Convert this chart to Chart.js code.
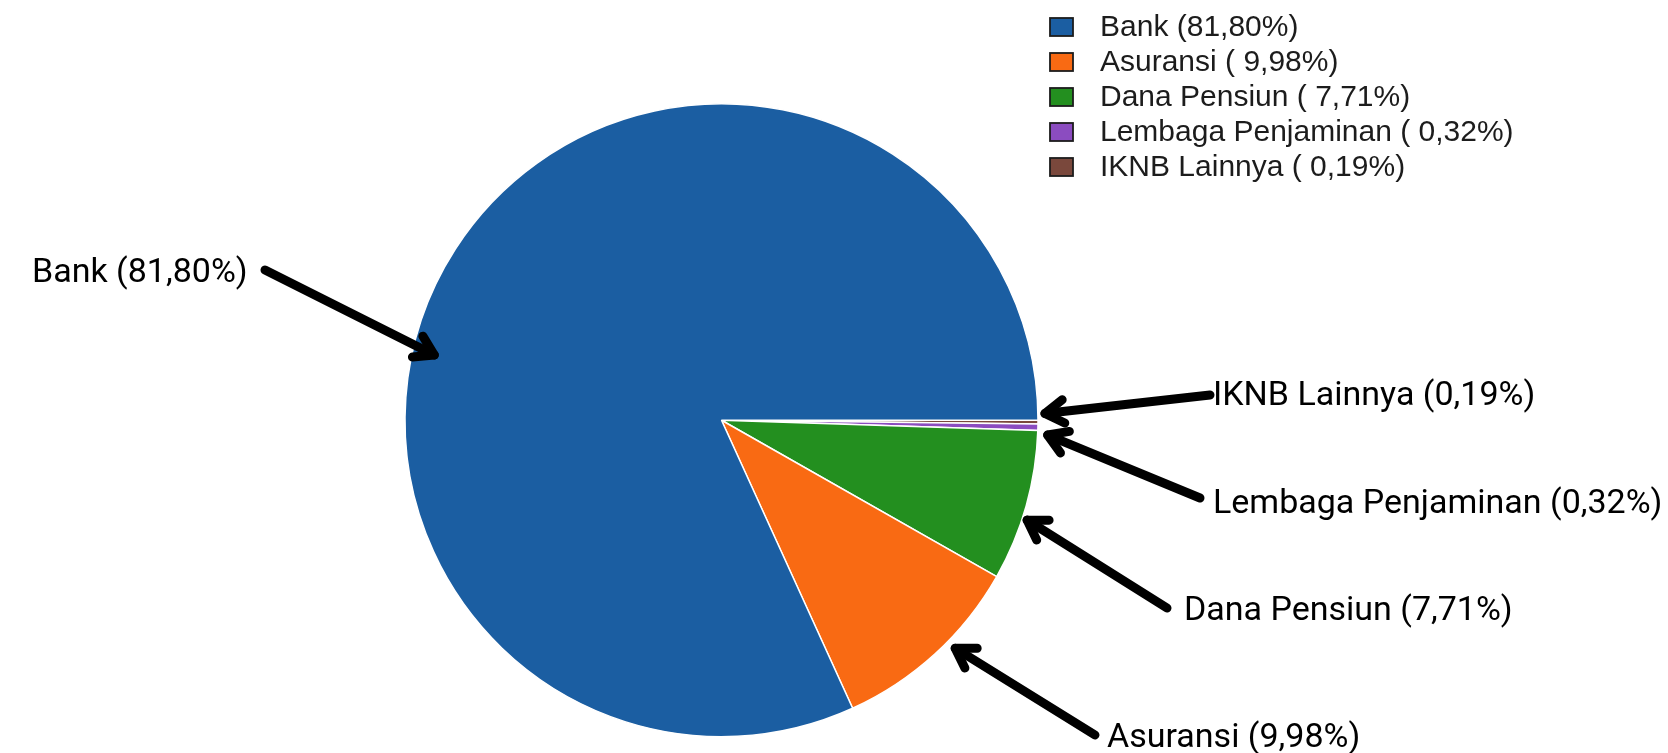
<!DOCTYPE html>
<html lang="id">
<head>
<meta charset="utf-8">
<title>Komposisi Aset Sektor Keuangan</title>
<script src="https://cdn.jsdelivr.net/npm/chart.js@4.4.1/dist/chart.umd.min.js"></script>
<style>
  html, body { margin: 0; padding: 0; background: #fff; }
  #wrap { width: 1668px; height: 753px; }
</style>
</head>
<body>
<div id="wrap"><canvas id="pie" width="1668" height="753"></canvas></div>
<script>
// Sector names and their share (%), in legend order
const sectors = ['Bank', 'Asuransi', 'Dana Pensiun', 'Lembaga Penjaminan', 'IKNB Lainnya'];
const shares = [81.80, 9.98, 7.71, 0.32, 0.19];
const sectorColors = ['#1b5ea2', '#f96a13', '#238f1f', '#8b4cc0', '#7a483c'];

// "81.8" -> "81,80"
const pct = v => v.toFixed(2).replace('.', ',');

// Callout placement: text baseline start, arrow tail, and where the arrow
// tip sits on the pie (angle clockwise from 3 o'clock, gap from the rim)
const callouts = [
    { text: [32, 282],   tail: [265, 270],  angle: 192.8, gap: -22 },
    { text: [1107, 747], tail: [1095, 735], angle: 44.3,  gap: 10 },
    { text: [1184, 620], tail: [1167, 608], angle: 18.1,  gap: 5 },
    { text: [1213, 513], tail: [1200, 498], angle: 2.6,   gap: 10 },
    { text: [1213, 405], tail: [1210, 395], angle: -1.2,  gap: 7 }
];

const legendBox = { x: 1050, y: 27, rowGap: 35, boxW: 23, boxH: 18, textX: 1100 };

// Slices run clockwise from 3 o'clock, so feed them smallest-first
const order = sectors.map((_, i) => i).reverse();

const legendPlugin = {
    id: 'sectorLegend',
    afterDraw(chart) {
        const ctx = chart.ctx;
        ctx.save();
        ctx.font = '30px "Liberation Sans", Arial, sans-serif';
        ctx.textBaseline = 'middle';
        sectors.forEach((name, i) => {
            const cy = legendBox.y + i * legendBox.rowGap;
            ctx.fillStyle = sectorColors[i];
            ctx.fillRect(legendBox.x, cy - legendBox.boxH / 2, legendBox.boxW, legendBox.boxH);
            ctx.lineWidth = 1.8;
            ctx.strokeStyle = '#1c1c1c';
            ctx.strokeRect(legendBox.x, cy - legendBox.boxH / 2, legendBox.boxW, legendBox.boxH);
            ctx.fillStyle = '#1c1c1c';
            ctx.fillText(`${name} (${pct(shares[i]).padStart(5)}%)`, legendBox.textX, cy + 1);
        });
        ctx.restore();
    }
};

const calloutPlugin = {
    id: 'callouts',
    afterDraw(chart) {
        const ctx = chart.ctx;
        const arc = chart.getDatasetMeta(0).data[0];
        const cx = arc.x, cy = arc.y, r = arc.outerRadius;
        ctx.save();
        ctx.strokeStyle = '#000';
        ctx.fillStyle = '#000';
        ctx.lineWidth = 9;
        ctx.lineCap = 'round';
        ctx.lineJoin = 'round';
        ctx.font = '34px Roboto, sans-serif';
        ctx.textBaseline = 'alphabetic';

        callouts.forEach((c, i) => {
            const a = c.angle * Math.PI / 180;
            const tipX = cx + (r + c.gap) * Math.cos(a);
            const tipY = cy + (r + c.gap) * Math.sin(a);
            const [tx, ty] = c.tail;

            // shaft
            ctx.beginPath();
            ctx.moveTo(tx, ty);
            ctx.lineTo(tipX, tipY);
            ctx.stroke();

            // open chevron head
            const back = Math.atan2(ty - tipY, tx - tipX);
            const spread = 32 * Math.PI / 180;
            const len = 22;
            ctx.beginPath();
            ctx.moveTo(tipX + len * Math.cos(back - spread), tipY + len * Math.sin(back - spread));
            ctx.lineTo(tipX, tipY);
            ctx.lineTo(tipX + len * Math.cos(back + spread), tipY + len * Math.sin(back + spread));
            ctx.stroke();

            ctx.fillText(`${sectors[i]} (${pct(shares[i])}%)`, c.text[0], c.text[1]);
        });
        ctx.restore();
    }
};

new Chart(document.getElementById('pie'), {
    type: 'pie',
    data: {
        labels: order.map(i => sectors[i]),
        datasets: [{
            data: order.map(i => shares[i]),
            backgroundColor: order.map(i => sectorColors[i]),
            borderColor: '#ffffff',
            borderWidth: 1.5
        }]
    },
    options: {
        responsive: false,
        animation: false,
        rotation: 90,
        layout: {
            padding: { top: 103, bottom: 15.5, left: 0, right: 225 }
        },
        plugins: {
            legend: { display: false },
            tooltip: { enabled: false }
        }
    },
    plugins: [legendPlugin, calloutPlugin]
});
</script>
</body>
</html>
